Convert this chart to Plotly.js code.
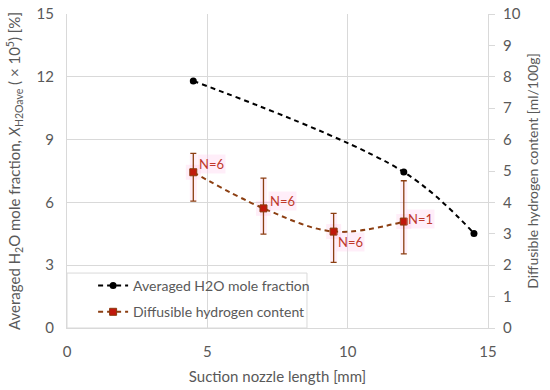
<!DOCTYPE html>
<html>
<head>
<meta charset="utf-8">
<script src="https://cdn.plot.ly/plotly-3.0.1.min.js"></script>
<style>html,body{margin:0;padding:0;background:#fff;}#chart{width:550px;height:390px;}</style>
</head>
<body>
<div id="chart"></div>
<script>
// Averaged H2O mole fraction (left axis)
const nozzleH2O = [4.5, 12, 14.5];
const h2oFraction = [11.8, 7.45, 4.52];

// Diffusible hydrogen content (right axis)
const nozzleHyd = [4.5, 7, 9.5, 12];
const hydContent = [4.96, 3.81, 3.07, 3.39];
const hydErrPlus = [0.60, 0.96, 0.58, 1.30];
const hydErrMinus = [0.92, 0.82, 0.98, 1.03];
const sampleLabels = ['N=6', 'N=6', 'N=6', 'N=1'];

const labelOffsets = [[18, -8], [19, -7], [17, 10], [17, -3]];

const FONT = 'Lato, "Open Sans", sans-serif';
const GREY = '#595959';
const GRID = '#d9d9d9';
const BROWN = '#8c3f12';

const traces = [
  {
    x: nozzleHyd, y: hydContent, yaxis: 'y2', type: 'scatter', mode: 'markers',
    marker: {symbol: 'square', size: 15, color: 'rgba(255,140,210,0.15)'},
    error_y: {type: 'data', symmetric: false, array: hydErrPlus, arrayminus: hydErrMinus,
              color: 'rgba(255,140,210,0.13)', thickness: 7, width: 0},
    showlegend: false, hoverinfo: 'skip'
  },
  {
    x: nozzleH2O, y: h2oFraction, type: 'scatter', mode: 'lines+markers',
    name: 'Averaged H2O mole fraction', legendgroup: 'a',
    line: {color: '#000000', width: 2, dash: '5px,4px', shape: 'spline'},
    marker: {symbol: 'circle', size: 7, color: '#000000'}
  },
  {
    x: nozzleHyd, y: hydContent, yaxis: 'y2', type: 'scatter', mode: 'lines+markers',
    name: 'Diffusible hydrogen content', legendgroup: 'b',
    line: {color: BROWN, width: 2, dash: '5px,4px', shape: 'spline'},
    marker: {symbol: 'square', size: 7, color: '#c0180c', line: {color: '#8b3a0e', width: 1}},
    error_y: {type: 'data', symmetric: false, array: hydErrPlus, arrayminus: hydErrMinus,
              color: BROWN, thickness: 1.3, width: 3}
  }
];

const annotations = nozzleHyd.map((xv, i) => ({
  x: xv, y: hydContent[i], xref: 'x', yref: 'y2', text: sampleLabels[i],
  showarrow: true, arrowcolor: 'rgba(0,0,0,0)', ax: labelOffsets[i][0], ay: labelOffsets[i][1],
  xanchor: 'center', yanchor: 'middle',
  font: {family: FONT, size: 13, color: '#c0392b'},
  bgcolor: 'rgba(255,200,235,0.3)', borderpad: 1
}));

const layout = {
  width: 550, height: 390,
  margin: {l: 67, r: 62, t: 14, b: 62},
  paper_bgcolor: '#ffffff', plot_bgcolor: '#ffffff',
  font: {family: FONT, color: GREY, size: 14},
  showlegend: true,
  legend: {x: 0.062, xanchor: 'left', y: 0.0, yanchor: 'bottom',
           bgcolor: 'rgba(0,0,0,0)', borderwidth: 0,
           font: {family: FONT, size: 14, color: GREY},
           traceorder: 'grouped', tracegroupgap: 5},
  shapes: [{type: 'rect', xref: 'paper', yref: 'paper', x0: 0, x1: 0.57, y0: 0, y1: 0.175,
            line: {color: GRID, width: 1}, fillcolor: '#ffffff', layer: 'between'}],
  xaxis: {
    range: [0, 15], dtick: 5, tick0: 0, showgrid: true, gridcolor: GRID, gridwidth: 1,
    zeroline: false, showline: true, linecolor: GRID, linewidth: 1, ticks: '',
    ticklabelstandoff: 10,
    tickfont: {family: FONT, size: 15, color: GREY},
    title: {text: 'Suction nozzle length [mm]', font: {family: FONT, size: 15, color: GREY}, standoff: 12},
    automargin: false
  },
  yaxis: {
    range: [0, 15], dtick: 3, tick0: 0, showgrid: true, gridcolor: GRID, gridwidth: 1,
    zeroline: false, showline: true, linecolor: GRID, ticks: '',
    ticklabelstandoff: 9,
    tickfont: {family: FONT, size: 15, color: GREY},
    title: {text: 'Averaged H<sub>2</sub>O mole fraction, <i>X</i><sub>H2Oave</sub> ( × 10<sup>5</sup>) [%]',
            font: {family: FONT, size: 15, color: GREY}, standoff: 12},
    automargin: false
  },
  yaxis2: {
    range: [0, 10], dtick: 1, tick0: 0, overlaying: 'y', side: 'right', showgrid: false,
    zeroline: false, showline: true, linecolor: GRID, ticks: 'outside', ticklen: 6, tickcolor: GRID,
    ticklabelstandoff: 5,
    tickfont: {family: FONT, size: 15, color: GREY},
    title: {text: 'Diffusible hydrogen content [ml/100g]', font: {family: FONT, size: 14, color: GREY}, standoff: 8},
    automargin: false
  },
  annotations: annotations
};

Plotly.newPlot('chart', traces, layout, {displayModeBar: false, staticPlot: true});
</script>
</body>
</html>
